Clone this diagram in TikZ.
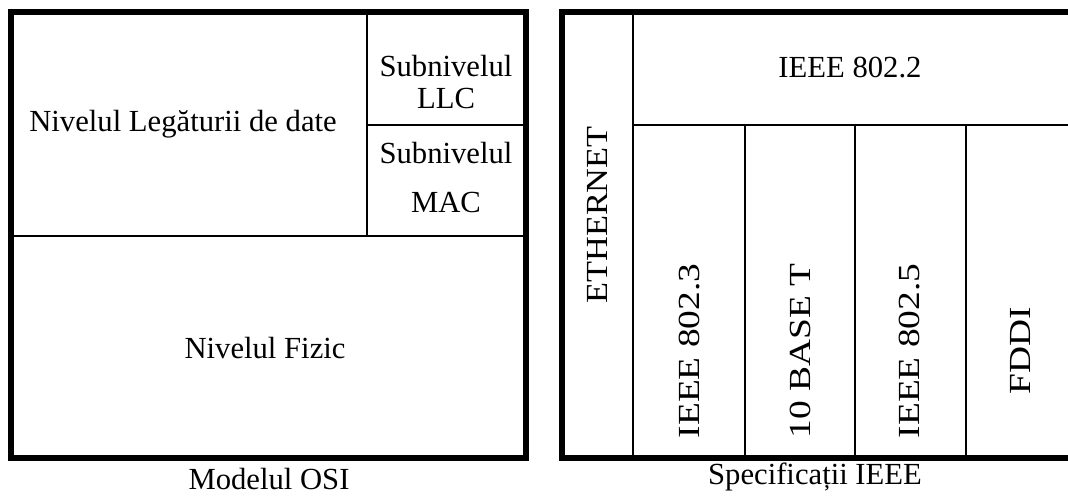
\documentclass[tikz,border=0pt]{standalone}
\usepackage{fontspec}
\setmainfont{Liberation Serif}
\begin{document}
\begin{tikzpicture}[x=0.75pt,y=-0.75pt,
  thick border/.style={line width=4.5pt,line cap=rect},
  thin line/.style={line width=1.5pt},
  lbl/.style={font=\fontsize{23}{27}\selectfont,inner sep=0pt,anchor=center},
  vlbl/.style={lbl,rotate=90,xscale=#1}]
\useasboundingbox (0,0) rectangle (1068,496);
% outer frames
\draw[thick border] (11,12) rectangle (526,458);
\draw[thick border] (1080,12) -- (562,12) -- (562,458) -- (1080,458);
% left internal lines
\draw[thin line] (367,12) -- (367,236);
\draw[thin line] (367,125) -- (526,125);
\draw[thin line] (11,236) -- (526,236);
% right internal lines
\draw[thin line] (633,12) -- (633,458);
\draw[thin line] (633,125) -- (1080,125);
\draw[thin line] (745,125) -- (745,458);
\draw[thin line] (855,125) -- (855,458);
\draw[thin line] (966,125) -- (966,458);
% labels
\node[lbl] (dll) at (183,124) {Nivelul Legăturii de date};
\node[lbl] (s1) at (446,66) {Subnivelul};
\node[lbl] (llc) at (446,98) {LLC};
\node[lbl] (s2) at (446,153) {Subnivelul};
\node[lbl] (mac) at (446,202) {MAC};
\node[lbl] (fiz) at (265,348) {Nivelul Fizic};
\node[lbl] (i8022) at (850,68) {IEEE 802.2};
\node[vlbl=1.12] (eth) at (597,215) {ETHERNET};
\node[vlbl=1.22] (i8023) at (690,351) {IEEE 802.3};
\node[vlbl=1.22] (base) at (800,351) {10 BASE T};
\node[vlbl=1.22] (i8025) at (910,351) {IEEE 802.5};
\node[vlbl=1.22] (fddi) at (1020,351) {FDDI};
\node[lbl,anchor=base] (osi) at (269,489) {Modelul OSI};
\node[lbl] (spec) at (815,477) {Specificații IEEE};
\end{tikzpicture}
\end{document}
